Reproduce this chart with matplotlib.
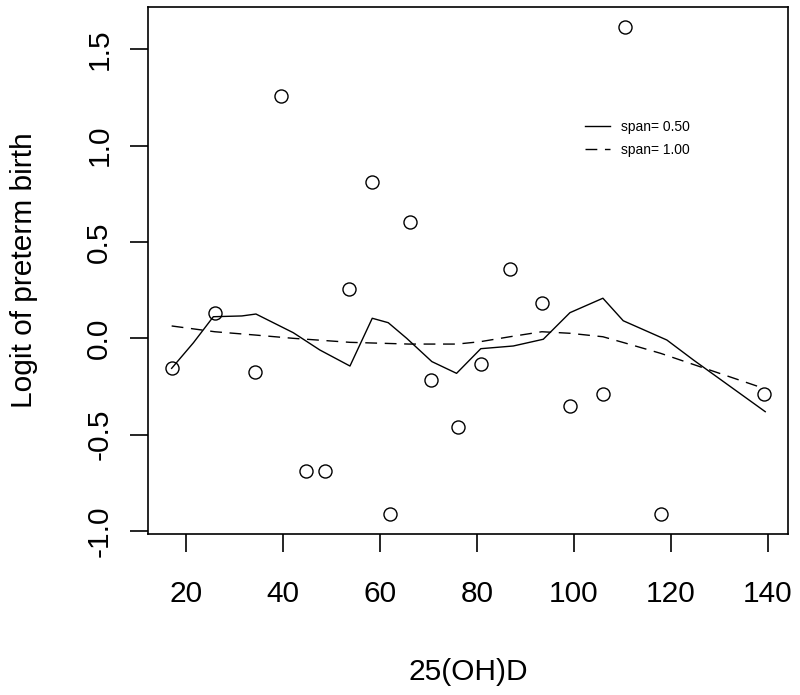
import matplotlib
matplotlib.use("Agg")
import numpy as np
from matplotlib import pyplot as plt

# observed points
vitd = [17.0, 26.0, 34.2, 39.6, 44.7, 48.6, 53.7, 58.3, 62.1, 66.1,
        70.5, 76.0, 80.8, 86.9, 93.5, 99.2, 106.1, 110.6, 118.0, 139.3]
logit = [-0.156, 0.133, -0.173, 1.258, -0.689, -0.689, 0.258, 0.812, -0.912, 0.605,
         -0.217, -0.462, -0.133, 0.361, 0.185, -0.350, -0.289, 1.616, -0.912, -0.289]

# loess, span 0.50
fit50_x = [17.0, 21.5, 25.6, 31.5, 34.4, 42.1, 47.6, 53.8, 58.4, 61.7, 65.5,
           70.7, 75.8, 80.8, 87.5, 93.7, 99.2, 106.0, 110.2, 119.2, 124.7, 139.5]
fit50_y = [-0.156, -0.023, 0.112, 0.116, 0.126, 0.029, -0.061, -0.144, 0.104, 0.081, 0.0,
           -0.121, -0.182, -0.054, -0.040, -0.005, 0.133, 0.208, 0.091, -0.009, -0.113, -0.381]

# loess, span 1.00
fit100_x = [17.0, 25.9, 34.2, 42.0, 53.8, 66.0, 75.9, 80.6, 86.8, 93.4, 99.2,
            106.0, 110.5, 117.9, 139.2]
fit100_y = [0.064, 0.034, 0.017, 0.0, -0.021, -0.030, -0.030, -0.018, 0.008, 0.034, 0.026,
            0.008, -0.024, -0.078, -0.260]

plt.rcParams['font.family'] = ['Liberation Sans', 'DejaVu Sans']

fig = plt.figure(figsize=(8, 6.95), dpi=100)
ax = fig.add_axes([0.185, 0.2317, 0.80, 0.7582])

ax.plot(vitd, logit, 'o', mfc='none', mec='black', ms=9.4, mew=1.0)
ax.plot(fit50_x, fit50_y, '-', color='black', lw=1.0, label='span= 0.50')
ax.plot(fit100_x, fit100_y, color='black', lw=1.0, dashes=(8.5, 5.5), label='span= 1.00')

ax.set_xlim(12.12, 144.2)
ax.set_ylim(-1.016, 1.720)
ax.set_xticks([20, 40, 60, 80, 100, 120, 140])
ax.set_yticks([-1.0, -0.5, 0.0, 0.5, 1.0, 1.5])
ax.set_yticklabels(['-1.0', '-0.5', '0.0', '0.5', '1.0', '1.5'])

for s in ax.spines.values():
    s.set_linewidth(1.2)
ax.tick_params(axis='both', direction='out', length=13, width=1.2, labelsize=21.5)
ax.tick_params(axis='x', pad=20)
ax.tick_params(axis='y', pad=12)
for t in ax.get_yticklabels():
    t.set_rotation(90)
    t.set_va('center')

ax.set_xlabel('25(OH)D', fontsize=21.5)
ax.set_ylabel('Logit of preterm birth', fontsize=21.5)
ax.xaxis.label.set_va('center')
ax.yaxis.label.set_va('center')
ax.xaxis.set_label_coords(0.5, -0.262)
ax.yaxis.set_label_coords(-0.194, 0.5)

ax.legend(loc='upper left', bbox_to_anchor=(0.683, 0.785), frameon=False,
          fontsize=10, handlelength=1.8, handletextpad=0.8, labelspacing=0.6,
          borderpad=0, borderaxespad=0)

fig.savefig('out.png', dpi=100)
